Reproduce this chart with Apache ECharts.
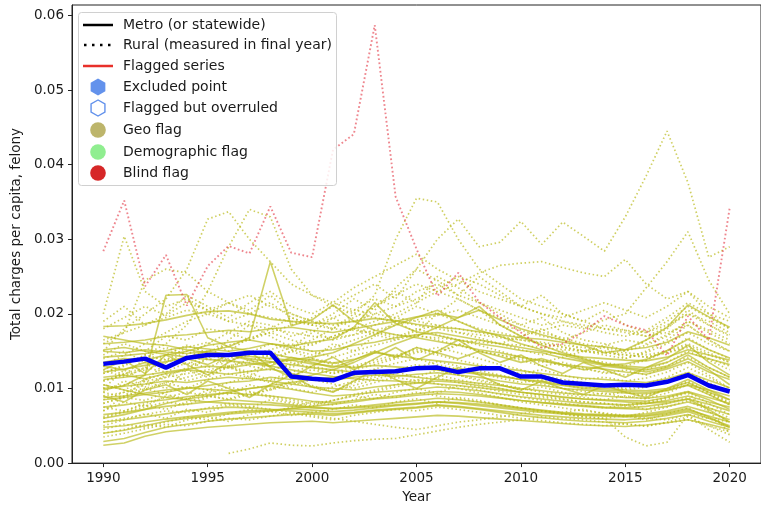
<!DOCTYPE html>
<html>
<head>
<meta charset="utf-8">
<script src="https://cdn.jsdelivr.net/npm/echarts@6/dist/echarts.min.js"></script>
<style>
html, body { margin: 0; padding: 0; background: #fff; }
#chart { width: 761px; height: 509px; }
</style>
</head>
<body>
<div id="chart"></div>
<script>
// Years on the x axis
const years = [1990,1991,1992,1993,1994,1995,1996,1997,1998,1999,2000,2001,2002,2003,2004,2005,2006,2007,2008,2009,2010,2011,2012,2013,2014,2015,2016,2017,2018,2019,2020];
const xTicks = [1990, 1995, 2000, 2005, 2010, 2015, 2020];
const yTicks = [0, 0.01, 0.02, 0.03, 0.04, 0.05, 0.06];

// Statewide series (thick blue)
const statewide = [0.0133,0.0136,0.0140,0.0128,0.0141,0.0145,0.0145,0.0148,0.0148,0.0116,0.0113,0.0111,0.0121,0.0122,0.0123,0.0127,0.0128,0.0122,0.0127,0.0127,0.0116,0.0116,0.0108,0.0106,0.0104,0.0105,0.0104,0.0109,0.0118,0.0104,0.0096];

// Flagged rural county (red dotted)
const flaggedRural = [0.0284,0.0352,0.0237,0.0279,0.0211,0.0264,0.0291,0.0281,0.0344,0.0282,0.0276,0.0420,0.0441,0.0587,0.0357,0.0287,0.0224,0.0255,0.0216,0.0195,0.0175,0.0155,0.0160,0.0176,0.0197,0.0185,0.0178,0.0144,0.0197,0.0165,0.0342];

// Metro counties (solid, geo flag colour)
const metro01 = [0.0183,0.0184,0.0187,0.0192,0.0198,0.0203,0.0204,0.0200,0.0193,0.0190,0.0188,0.0187,0.0190,0.0194,0.0191,0.0186,0.0182,0.0180,0.0176,0.0172,0.0168,0.0166,0.0162,0.0158,0.0156,0.0152,0.0155,0.0162,0.0176,0.0168,0.0158];
const metro02 = [0.0122,0.0126,0.0131,0.0136,0.0142,0.0150,0.0156,0.0168,0.0270,0.0184,0.0192,0.0212,0.0190,0.0178,0.0172,0.0168,0.0163,0.0158,0.0152,0.0148,0.0142,0.0137,0.0132,0.0129,0.0126,0.0122,0.0119,0.0126,0.0136,0.0122,0.0112];
const metro03 = [0.0098,0.0104,0.0118,0.0225,0.0226,0.0168,0.0156,0.0150,0.0147,0.0141,0.0138,0.0134,0.0139,0.0148,0.0144,0.0140,0.0137,0.0134,0.0130,0.0127,0.0124,0.0120,0.0117,0.0114,0.0112,0.0110,0.0108,0.0113,0.0121,0.0111,0.0101];
const metro04 = [0.0142,0.0144,0.0147,0.0151,0.0156,0.0153,0.0150,0.0154,0.0160,0.0157,0.0162,0.0166,0.0182,0.0215,0.0187,0.0176,0.0171,0.0165,0.0160,0.0156,0.0151,0.0148,0.0141,0.0136,0.0131,0.0133,0.0139,0.0151,0.0166,0.0152,0.0141];
const metro05 = [0.0160,0.0162,0.0165,0.0170,0.0172,0.0175,0.0178,0.0176,0.0180,0.0182,0.0178,0.0175,0.0180,0.0185,0.0190,0.0196,0.0200,0.0195,0.0205,0.0192,0.0180,0.0172,0.0165,0.0158,0.0148,0.0152,0.0165,0.0182,0.0212,0.0196,0.0182];
const metro06 = [0.0112,0.0115,0.0118,0.0122,0.0126,0.0130,0.0128,0.0132,0.0135,0.0138,0.0142,0.0148,0.0160,0.0172,0.0185,0.0195,0.0205,0.0190,0.0178,0.0170,0.0160,0.0152,0.0145,0.0138,0.0133,0.0130,0.0128,0.0135,0.0148,0.0140,0.0132];
const metro07 = [0.0085,0.0088,0.0092,0.0095,0.0100,0.0104,0.0108,0.0110,0.0115,0.0112,0.0118,0.0125,0.0135,0.0148,0.0160,0.0170,0.0182,0.0195,0.0210,0.0185,0.0170,0.0158,0.0148,0.0140,0.0132,0.0128,0.0125,0.0130,0.0145,0.0128,0.0115];
const metro08 = [0.0150,0.0148,0.0152,0.0149,0.0147,0.0150,0.0146,0.0143,0.0140,0.0138,0.0133,0.0130,0.0128,0.0131,0.0129,0.0127,0.0125,0.0122,0.0119,0.0116,0.0112,0.0110,0.0105,0.0102,0.0100,0.0098,0.0097,0.0100,0.0108,0.0095,0.0085];
const metro09 = [0.0115,0.0118,0.0113,0.0120,0.0125,0.0122,0.0119,0.0123,0.0126,0.0120,0.0114,0.0111,0.0115,0.0118,0.0116,0.0119,0.0121,0.0118,0.0115,0.0110,0.0106,0.0104,0.0100,0.0098,0.0096,0.0094,0.0093,0.0097,0.0105,0.0098,0.0090];
const metro10 = [0.0100,0.0103,0.0106,0.0110,0.0108,0.0112,0.0115,0.0113,0.0110,0.0106,0.0102,0.0100,0.0098,0.0102,0.0105,0.0107,0.0110,0.0108,0.0104,0.0100,0.0095,0.0092,0.0088,0.0086,0.0085,0.0084,0.0083,0.0088,0.0095,0.0085,0.0072];
const metro11 = [0.0088,0.0090,0.0094,0.0098,0.0101,0.0099,0.0097,0.0100,0.0103,0.0099,0.0094,0.0090,0.0092,0.0095,0.0097,0.0099,0.0102,0.0100,0.0097,0.0093,0.0089,0.0086,0.0083,0.0080,0.0079,0.0078,0.0080,0.0084,0.0090,0.0082,0.0075];
const metro12 = [0.0075,0.0078,0.0082,0.0085,0.0089,0.0092,0.0094,0.0092,0.0090,0.0087,0.0083,0.0081,0.0084,0.0087,0.0090,0.0093,0.0096,0.0095,0.0092,0.0088,0.0084,0.0081,0.0078,0.0076,0.0074,0.0073,0.0072,0.0076,0.0082,0.0074,0.0065];
const metro13 = [0.0065,0.0068,0.0072,0.0076,0.0079,0.0082,0.0085,0.0083,0.0081,0.0078,0.0075,0.0073,0.0075,0.0078,0.0081,0.0084,0.0087,0.0085,0.0082,0.0078,0.0074,0.0071,0.0068,0.0066,0.0065,0.0064,0.0066,0.0070,0.0076,0.0068,0.0058];
const metro14 = [0.0055,0.0058,0.0062,0.0066,0.0070,0.0073,0.0075,0.0074,0.0072,0.0070,0.0068,0.0066,0.0068,0.0071,0.0073,0.0075,0.0078,0.0076,0.0073,0.0070,0.0067,0.0064,0.0062,0.0060,0.0059,0.0058,0.0060,0.0064,0.0069,0.0060,0.0050];
const metro15 = [0.0024,0.0027,0.0036,0.0042,0.0045,0.0048,0.0050,0.0052,0.0054,0.0055,0.0056,0.0054,0.0056,0.0058,0.0060,0.0062,0.0064,0.0063,0.0061,0.0059,0.0057,0.0055,0.0053,0.0051,0.0050,0.0049,0.0051,0.0054,0.0058,0.0052,0.0045];
const metro16 = [0.0029,0.0033,0.0041,0.0048,0.0052,0.0056,0.0059,0.0061,0.0063,0.0065,0.0066,0.0064,0.0067,0.0070,0.0072,0.0074,0.0077,0.0075,0.0072,0.0068,0.0064,0.0061,0.0058,0.0056,0.0055,0.0054,0.0056,0.0060,0.0065,0.0056,0.0048];
const metro17 = [0.0040,0.0044,0.0050,0.0056,0.0060,0.0063,0.0066,0.0068,0.0070,0.0073,0.0076,0.0079,0.0082,0.0086,0.0088,0.0091,0.0093,0.0092,0.0090,0.0087,0.0084,0.0081,0.0079,0.0077,0.0075,0.0074,0.0076,0.0080,0.0086,0.0079,0.0070];
const metro18 = [0.0170,0.0165,0.0160,0.0158,0.0152,0.0148,0.0145,0.0140,0.0136,0.0132,0.0128,0.0125,0.0122,0.0120,0.0118,0.0115,0.0112,0.0110,0.0107,0.0104,0.0100,0.0097,0.0094,0.0092,0.0090,0.0088,0.0087,0.0090,0.0096,0.0088,0.0080];
const metro19 = [0.0130,0.0125,0.0135,0.0128,0.0140,0.0132,0.0145,0.0138,0.0130,0.0142,0.0135,0.0128,0.0138,0.0150,0.0142,0.0155,0.0148,0.0140,0.0150,0.0143,0.0135,0.0140,0.0132,0.0125,0.0130,0.0127,0.0122,0.0128,0.0140,0.0125,0.0105];
const metro20 = [0.0060,0.0065,0.0072,0.0080,0.0086,0.0090,0.0095,0.0100,0.0104,0.0108,0.0112,0.0115,0.0118,0.0121,0.0124,0.0126,0.0128,0.0125,0.0121,0.0117,0.0112,0.0108,0.0104,0.0100,0.0098,0.0096,0.0095,0.0098,0.0104,0.0092,0.0078];
const metro21 = [0.0105,0.0098,0.0092,0.0088,0.0085,0.0082,0.0080,0.0079,0.0078,0.0076,0.0074,0.0073,0.0074,0.0076,0.0078,0.0080,0.0082,0.0081,0.0079,0.0076,0.0073,0.0070,0.0067,0.0065,0.0064,0.0063,0.0064,0.0068,0.0073,0.0062,0.0048];
const metro22 = [0.0135,0.0140,0.0138,0.0145,0.0150,0.0158,0.0162,0.0165,0.0160,0.0155,0.0150,0.0152,0.0158,0.0162,0.0168,0.0172,0.0175,0.0170,0.0165,0.0160,0.0155,0.0150,0.0146,0.0142,0.0140,0.0138,0.0137,0.0142,0.0152,0.0145,0.0138];
const metro23 = [0.0048,0.0050,0.0055,0.0059,0.0062,0.0065,0.0068,0.0070,0.0071,0.0073,0.0071,0.0069,0.0071,0.0074,0.0077,0.0079,0.0082,0.0080,0.0077,0.0074,0.0071,0.0068,0.0066,0.0064,0.0063,0.0062,0.0063,0.0066,0.0071,0.0063,0.0055];
const metro24 = [0.0152,0.0155,0.0150,0.0146,0.0142,0.0139,0.0137,0.0134,0.0130,0.0125,0.0120,0.0116,0.0113,0.0111,0.0110,0.0108,0.0106,0.0104,0.0101,0.0098,0.0095,0.0092,0.0089,0.0086,0.0084,0.0082,0.0080,0.0082,0.0086,0.0072,0.0055];
const metro25 = [0.0125,0.0138,0.0120,0.0145,0.0132,0.0118,0.0135,0.0150,0.0128,0.0115,0.0130,0.0142,0.0125,0.0140,0.0155,0.0138,0.0150,0.0165,0.0148,0.0135,0.0145,0.0130,0.0120,0.0135,0.0125,0.0115,0.0128,0.0140,0.0158,0.0135,0.0118];
const metro26 = [0.0090,0.0082,0.0098,0.0105,0.0092,0.0110,0.0100,0.0088,0.0105,0.0118,0.0102,0.0095,0.0110,0.0125,0.0112,0.0100,0.0115,0.0128,0.0118,0.0105,0.0098,0.0110,0.0100,0.0092,0.0104,0.0095,0.0088,0.0100,0.0112,0.0098,0.0085];

// Rural counties (dotted, geo flag colour)
const rural01 = [0.0110,0.0118,0.0125,0.0135,0.0142,0.0150,0.0158,0.0165,0.0175,0.0185,0.0195,0.0210,0.0225,0.0240,0.0220,0.0260,0.0300,0.0327,0.0290,0.0296,0.0324,0.0293,0.0323,0.0304,0.0284,0.0330,0.0385,0.0445,0.0376,0.0276,0.0290];
const rural02 = [0.0090,0.0095,0.0100,0.0108,0.0115,0.0122,0.0130,0.0138,0.0145,0.0155,0.0165,0.0180,0.0200,0.0225,0.0300,0.0355,0.0350,0.0300,0.0260,0.0240,0.0220,0.0210,0.0200,0.0190,0.0180,0.0175,0.0170,0.0175,0.0185,0.0165,0.0150];
const rural03 = [0.0150,0.0180,0.0200,0.0220,0.0260,0.0327,0.0337,0.0300,0.0270,0.0240,0.0225,0.0210,0.0200,0.0195,0.0190,0.0185,0.0180,0.0175,0.0172,0.0168,0.0165,0.0160,0.0156,0.0150,0.0148,0.0145,0.0142,0.0148,0.0155,0.0140,0.0130];
const rural04 = [0.0120,0.0130,0.0145,0.0160,0.0185,0.0230,0.0290,0.0340,0.0330,0.0260,0.0225,0.0215,0.0205,0.0200,0.0195,0.0190,0.0185,0.0180,0.0175,0.0170,0.0165,0.0162,0.0158,0.0155,0.0150,0.0148,0.0145,0.0150,0.0160,0.0148,0.0135];
const rural05 = [0.0200,0.0304,0.0230,0.0210,0.0220,0.0205,0.0215,0.0200,0.0195,0.0190,0.0185,0.0180,0.0178,0.0175,0.0172,0.0170,0.0168,0.0165,0.0162,0.0160,0.0158,0.0155,0.0152,0.0150,0.0148,0.0145,0.0142,0.0148,0.0158,0.0145,0.0135];
const rural06 = [0.0160,0.0175,0.0245,0.0260,0.0255,0.0230,0.0215,0.0205,0.0225,0.0200,0.0190,0.0185,0.0190,0.0200,0.0210,0.0220,0.0235,0.0250,0.0240,0.0225,0.0210,0.0200,0.0190,0.0185,0.0180,0.0178,0.0175,0.0185,0.0200,0.0190,0.0175];
const rural07 = [0.0100,0.0105,0.0110,0.0115,0.0120,0.0125,0.0130,0.0135,0.0140,0.0150,0.0160,0.0170,0.0180,0.0190,0.0200,0.0215,0.0230,0.0240,0.0255,0.0265,0.0268,0.0270,0.0262,0.0255,0.0250,0.0273,0.0240,0.0220,0.0230,0.0200,0.0180];
const rural08 = [0.0080,0.0088,0.0084,0.0095,0.0102,0.0098,0.0108,0.0115,0.0110,0.0118,0.0125,0.0120,0.0130,0.0138,0.0145,0.0152,0.0148,0.0158,0.0165,0.0160,0.0170,0.0178,0.0185,0.0180,0.0192,0.0200,0.0235,0.0270,0.0310,0.0245,0.0200];
const rural09 = [0.0145,0.0160,0.0150,0.0170,0.0165,0.0180,0.0175,0.0190,0.0185,0.0170,0.0178,0.0165,0.0172,0.0185,0.0195,0.0210,0.0200,0.0190,0.0180,0.0175,0.0168,0.0160,0.0155,0.0150,0.0145,0.0140,0.0148,0.0160,0.0175,0.0160,0.0150];
const rural10 = [0.0095,0.0110,0.0102,0.0118,0.0125,0.0115,0.0130,0.0122,0.0135,0.0128,0.0140,0.0132,0.0145,0.0150,0.0142,0.0155,0.0148,0.0160,0.0150,0.0145,0.0138,0.0130,0.0135,0.0128,0.0120,0.0125,0.0118,0.0130,0.0142,0.0128,0.0115];
const rural11 = [0.0070,0.0082,0.0076,0.0090,0.0085,0.0098,0.0092,0.0105,0.0098,0.0110,0.0104,0.0096,0.0108,0.0115,0.0122,0.0115,0.0125,0.0118,0.0110,0.0105,0.0098,0.0102,0.0095,0.0090,0.0094,0.0088,0.0092,0.0098,0.0110,0.0095,0.0082];
const rural12 = [0.0050,0.0058,0.0066,0.0060,0.0072,0.0068,0.0078,0.0074,0.0085,0.0080,0.0076,0.0084,0.0090,0.0086,0.0095,0.0100,0.0094,0.0104,0.0098,0.0092,0.0088,0.0084,0.0080,0.0077,0.0074,0.0078,0.0072,0.0080,0.0088,0.0075,0.0060];
const rural13 = [0.0120,0.0132,0.0145,0.0138,0.0155,0.0162,0.0150,0.0168,0.0175,0.0165,0.0158,0.0170,0.0180,0.0172,0.0165,0.0178,0.0185,0.0175,0.0168,0.0160,0.0152,0.0145,0.0150,0.0140,0.0135,0.0130,0.0138,0.0150,0.0168,0.0152,0.0140];
const rural14 = [0.0180,0.0195,0.0210,0.0198,0.0215,0.0205,0.0190,0.0200,0.0215,0.0195,0.0185,0.0195,0.0205,0.0220,0.0210,0.0230,0.0240,0.0225,0.0215,0.0205,0.0195,0.0185,0.0190,0.0182,0.0175,0.0170,0.0178,0.0195,0.0215,0.0200,0.0190];
const rural15 = [0.0040,0.0045,0.0052,0.0048,0.0058,0.0062,0.0056,0.0065,0.0070,0.0064,0.0068,0.0072,0.0078,0.0074,0.0082,0.0086,0.0080,0.0088,0.0084,0.0078,0.0074,0.0070,0.0066,0.0062,0.0060,0.0064,0.0058,0.0066,0.0074,0.0060,0.0048];
const rural16 = [0.0105,0.0098,0.0112,0.0120,0.0110,0.0118,0.0128,0.0120,0.0112,0.0122,0.0130,0.0124,0.0118,0.0126,0.0134,0.0140,0.0132,0.0126,0.0120,0.0114,0.0108,0.0112,0.0105,0.0100,0.0104,0.0098,0.0102,0.0110,0.0122,0.0108,0.0095];
const rural17 = [0.0085,0.0095,0.0105,0.0115,0.0128,0.0140,0.0135,0.0148,0.0160,0.0152,0.0145,0.0155,0.0165,0.0175,0.0168,0.0180,0.0172,0.0165,0.0158,0.0150,0.0142,0.0138,0.0130,0.0126,0.0122,0.0118,0.0125,0.0135,0.0150,0.0138,0.0125];
const rural18 = [0.0060,0.0068,0.0075,0.0082,0.0078,0.0088,0.0095,0.0090,0.0100,0.0108,0.0102,0.0096,0.0104,0.0112,0.0120,0.0128,0.0136,0.0130,0.0124,0.0118,0.0112,0.0106,0.0100,0.0096,0.0092,0.0095,0.0090,0.0098,0.0108,0.0094,0.0080];
const rural19 = [0.0130,0.0145,0.0160,0.0175,0.0190,0.0200,0.0215,0.0225,0.0210,0.0200,0.0190,0.0180,0.0195,0.0210,0.0225,0.0240,0.0230,0.0220,0.0205,0.0195,0.0185,0.0175,0.0168,0.0160,0.0155,0.0150,0.0158,0.0170,0.0190,0.0175,0.0160];
const rural20 = [0.0035,0.0040,0.0046,0.0052,0.0050,0.0056,0.0060,0.0058,0.0063,0.0067,0.0062,0.0058,0.0064,0.0068,0.0072,0.0070,0.0075,0.0072,0.0068,0.0064,0.0060,0.0057,0.0054,0.0052,0.0050,0.0053,0.0049,0.0055,0.0062,0.0050,0.0038];
const rural21 = [0.0165,0.0175,0.0185,0.0195,0.0205,0.0200,0.0190,0.0185,0.0180,0.0175,0.0170,0.0168,0.0172,0.0178,0.0185,0.0192,0.0198,0.0205,0.0195,0.0185,0.0178,0.0170,0.0165,0.0175,0.0185,0.0178,0.0170,0.0182,0.0200,0.0185,0.0172];
const rural22 = [0.0110,0.0120,0.0128,0.0122,0.0135,0.0128,0.0140,0.0150,0.0142,0.0135,0.0128,0.0120,0.0125,0.0132,0.0140,0.0148,0.0155,0.0148,0.0140,0.0132,0.0125,0.0118,0.0112,0.0108,0.0104,0.0100,0.0106,0.0115,0.0128,0.0115,0.0100];
const rural23 = [0.0075,0.0070,0.0080,0.0088,0.0095,0.0090,0.0085,0.0092,0.0098,0.0105,0.0112,0.0106,0.0100,0.0108,0.0115,0.0110,0.0118,0.0112,0.0106,0.0100,0.0095,0.0090,0.0086,0.0082,0.0080,0.0078,0.0082,0.0088,0.0096,0.0080,0.0065];
const rural24 = [0.0095,0.0088,0.0100,0.0092,0.0086,0.0094,0.0102,0.0096,0.0090,0.0085,0.0080,0.0084,0.0090,0.0096,0.0102,0.0108,0.0114,0.0108,0.0102,0.0096,0.0092,0.0088,0.0085,0.0082,0.0080,0.0076,0.0080,0.0086,0.0094,0.0070,0.0040];
const rural25 = [0.0062,0.0070,0.0078,0.0072,0.0082,0.0090,0.0086,0.0095,0.0088,0.0082,0.0078,0.0084,0.0092,0.0098,0.0105,0.0112,0.0106,0.0100,0.0094,0.0088,0.0082,0.0078,0.0074,0.0070,0.0067,0.0064,0.0060,0.0058,0.0065,0.0045,0.0028];
const rural26 = [0.0055,0.0060,0.0065,0.0070,0.0068,0.0074,0.0080,0.0076,0.0072,0.0068,0.0064,0.0060,0.0056,0.0052,0.0048,0.0045,0.0050,0.0055,0.0058,0.0062,0.0066,0.0070,0.0066,0.0062,0.0060,0.0035,0.0023,0.0028,0.0065,0.0060,0.0055];
const rural27 = [null,null,null,null,null,null,0.0013,0.0019,0.0027,0.0024,0.0023,0.0027,0.0030,0.0032,0.0033,0.0038,0.0043,0.0048,0.0052,0.0055,0.0058,0.0062,0.0060,0.0058,0.0055,0.0052,0.0050,0.0054,0.0058,0.0050,0.0042];
const rural28 = [0.0140,0.0150,0.0135,0.0145,0.0158,0.0148,0.0138,0.0145,0.0152,0.0160,0.0150,0.0142,0.0150,0.0158,0.0165,0.0172,0.0165,0.0158,0.0150,0.0145,0.0140,0.0135,0.0142,0.0150,0.0158,0.0165,0.0160,0.0172,0.0190,0.0178,0.0165];
const rural29 = [0.0045,0.0052,0.0048,0.0055,0.0062,0.0058,0.0066,0.0072,0.0068,0.0075,0.0082,0.0078,0.0085,0.0092,0.0088,0.0095,0.0090,0.0086,0.0082,0.0078,0.0074,0.0070,0.0068,0.0072,0.0066,0.0062,0.0068,0.0075,0.0084,0.0070,0.0055];
const rural30 = [0.0190,0.0210,0.0185,0.0200,0.0225,0.0210,0.0195,0.0215,0.0230,0.0210,0.0200,0.0215,0.0235,0.0250,0.0265,0.0280,0.0260,0.0245,0.0230,0.0220,0.0210,0.0200,0.0195,0.0205,0.0215,0.0205,0.0195,0.0210,0.0230,0.0210,0.0195];
const rural31 = [0.0125,0.0115,0.0128,0.0140,0.0132,0.0145,0.0138,0.0130,0.0125,0.0132,0.0140,0.0135,0.0128,0.0135,0.0142,0.0150,0.0145,0.0138,0.0132,0.0126,0.0120,0.0125,0.0118,0.0112,0.0115,0.0110,0.0114,0.0122,0.0135,0.0118,0.0100];
const rural32 = [0.0080,0.0090,0.0098,0.0108,0.0100,0.0112,0.0120,0.0115,0.0108,0.0100,0.0095,0.0102,0.0110,0.0118,0.0125,0.0132,0.0125,0.0118,0.0112,0.0106,0.0100,0.0095,0.0092,0.0088,0.0085,0.0090,0.0086,0.0094,0.0105,0.0092,0.0078];
const rural33 = [0.0130,0.0118,0.0140,0.0155,0.0145,0.0160,0.0175,0.0165,0.0180,0.0195,0.0185,0.0200,0.0220,0.0205,0.0235,0.0260,0.0245,0.0225,0.0250,0.0230,0.0210,0.0225,0.0200,0.0190,0.0205,0.0185,0.0175,0.0190,0.0210,0.0195,0.0180];
const rural34 = [0.0100,0.0125,0.0110,0.0135,0.0150,0.0140,0.0165,0.0185,0.0170,0.0155,0.0175,0.0195,0.0180,0.0210,0.0230,0.0215,0.0250,0.0235,0.0215,0.0200,0.0185,0.0195,0.0175,0.0165,0.0160,0.0150,0.0165,0.0180,0.0205,0.0185,0.0170];
const rural35 = [0.0070,0.0090,0.0110,0.0100,0.0125,0.0140,0.0130,0.0115,0.0135,0.0150,0.0140,0.0160,0.0150,0.0170,0.0190,0.0175,0.0200,0.0220,0.0205,0.0185,0.0170,0.0180,0.0165,0.0150,0.0155,0.0140,0.0150,0.0165,0.0185,0.0165,0.0150];

const metroSeries = [metro01,metro02,metro03,metro04,metro05,metro06,metro07,metro08,metro09,metro10,metro11,metro12,metro13,metro14,metro15,metro16,metro17,metro18,metro19,metro20,metro21,metro22,metro23,metro24,metro25,metro26];
const ruralSeries = [rural01,rural02,rural03,rural04,rural05,rural06,rural07,rural08,rural09,rural10,rural11,rural12,rural13,rural14,rural15,rural16,rural17,rural18,rural19,rural20,rural21,rural22,rural23,rural24,rural25,rural26,rural27,rural28,rural29,rural30,rural31,rural32,rural33,rural34,rural35];

const FONT = 'DejaVu Sans';
const GEO = 'rgba(186,187,30,0.68)';
const GEO_DOT = 'rgba(186,187,30,0.7)';

function toPairs(values) {
  const out = [];
  values.forEach((v, i) => { if (v !== null) out.push([years[i], v]); });
  return out;
}

const series = [];
ruralSeries.forEach((vals, i) => {
  series.push({
    name: 'rural' + (i + 1), type: 'line', data: toPairs(vals),
    symbol: 'none', silent: true, z: 2,
    lineStyle: { color: GEO_DOT, width: 1.7, type: [1.5, 2.6] }
  });
});
metroSeries.forEach((vals, i) => {
  series.push({
    name: 'metro' + (i + 1), type: 'line', data: toPairs(vals),
    symbol: 'none', silent: true, z: 3,
    lineStyle: { color: GEO, width: 1.6 }
  });
});
series.push({
  name: 'flagged', type: 'line', data: toPairs(flaggedRural),
  symbol: 'none', silent: true, z: 4,
  lineStyle: { color: 'rgba(228,60,72,0.62)', width: 1.9, type: [1.7, 2.5] }
});
series.push({
  name: 'statewide', type: 'line', data: toPairs(statewide),
  symbol: 'none', silent: true, z: 5,
  lineStyle: { color: '#0000f0', width: 4.5, join: 'round' }
});

// Legend drawn as graphic elements
const legendRows = [25, 45, 66, 87, 108, 130, 152, 173];
const legendLabels = ['Metro (or statewide)', 'Rural (measured in final year)', 'Flagged series', 'Excluded point', 'Flagged but overruled', 'Geo flag', 'Demographic flag', 'Blind flag'];
function hexPoints(cx, cy, r) {
  const pts = [];
  for (let k = 0; k < 6; k++) {
    const a = Math.PI / 2 + k * Math.PI / 3;
    pts.push([cx + r * Math.cos(a), cy - r * Math.sin(a)]);
  }
  return pts;
}
const graphics = [
  { type: 'rect', shape: { x: 78.5, y: 12.5, width: 258, height: 173, r: 3 },
    style: { fill: 'rgba(255,255,255,0.85)', stroke: '#d0d0d0', lineWidth: 1 }, z: 100 },
  { type: 'line', shape: { x1: 83, y1: legendRows[0], x2: 113, y2: legendRows[0] },
    style: { stroke: '#000', lineWidth: 2.5 }, z: 101 },
  { type: 'line', shape: { x1: 84, y1: legendRows[1], x2: 113, y2: legendRows[1] },
    style: { stroke: '#000', lineWidth: 2.5, lineDash: [2.5, 5.5] }, z: 101 },
  { type: 'line', shape: { x1: 83, y1: legendRows[2], x2: 113, y2: legendRows[2] },
    style: { stroke: '#e8302a', lineWidth: 2.5 }, z: 101 },
  { type: 'polygon', shape: { points: hexPoints(98, legendRows[3], 8.5) },
    style: { fill: '#6392ec' }, z: 101 },
  { type: 'polygon', shape: { points: hexPoints(98, legendRows[4], 8) },
    style: { fill: '#fff', stroke: '#6392ec', lineWidth: 1.4 }, z: 101 },
  { type: 'circle', shape: { cx: 98, cy: legendRows[5], r: 7.8 }, style: { fill: '#bdb56b' }, z: 101 },
  { type: 'circle', shape: { cx: 98, cy: legendRows[6], r: 7.8 }, style: { fill: '#90ee90' }, z: 101 },
  { type: 'circle', shape: { cx: 98, cy: legendRows[7], r: 7.8 }, style: { fill: '#d62728' }, z: 101 }
];
legendLabels.forEach((t, i) => {
  graphics.push({
    type: 'text', x: 123, y: legendRows[i], z: 101,
    style: { text: t, font: '14px "' + FONT + '"', fill: '#1a1a1a', textVerticalAlign: 'middle', verticalAlign: 'middle' }
  });
});

const chart = echarts.init(document.getElementById('chart'), null, { renderer: 'canvas' });
chart.setOption({
  animation: false,
  backgroundColor: '#fff',
  grid: { left: 72, top: 5, width: 694, height: 460, show: true, borderColor: '#222', borderWidth: 1, backgroundColor: 'transparent' },
  xAxis: {
    type: 'value', min: 1988.5, max: 2021.5,
    name: 'Year', nameLocation: 'middle', nameGap: 25,
    nameTextStyle: { fontFamily: FONT, fontSize: 13.5, color: '#1a1a1a' },
    axisLine: { show: true, lineStyle: { color: '#222', width: 1 } },
    axisTick: { show: true, length: 4, customValues: xTicks, lineStyle: { color: '#222' } },
    axisLabel: { customValues: xTicks, margin: 8, fontFamily: FONT, fontSize: 13.5, color: '#1a1a1a', formatter: v => String(v) },
    splitLine: { show: false }
  },
  yAxis: {
    type: 'value', min: 0, max: 0.0614,
    name: 'Total charges per capita, felony', nameLocation: 'middle', nameGap: 47,
    nameTextStyle: { fontFamily: FONT, fontSize: 13.5, color: '#1a1a1a' },
    axisLine: { show: true, lineStyle: { color: '#222', width: 1 } },
    axisTick: { show: true, length: 4, customValues: yTicks, lineStyle: { color: '#222' } },
    axisLabel: { customValues: yTicks, margin: 8, fontFamily: FONT, fontSize: 13.5, color: '#1a1a1a', formatter: v => v.toFixed(2) },
    splitLine: { show: false }
  },
  series: series,
  graphic: graphics
});
</script>
</body>
</html>
